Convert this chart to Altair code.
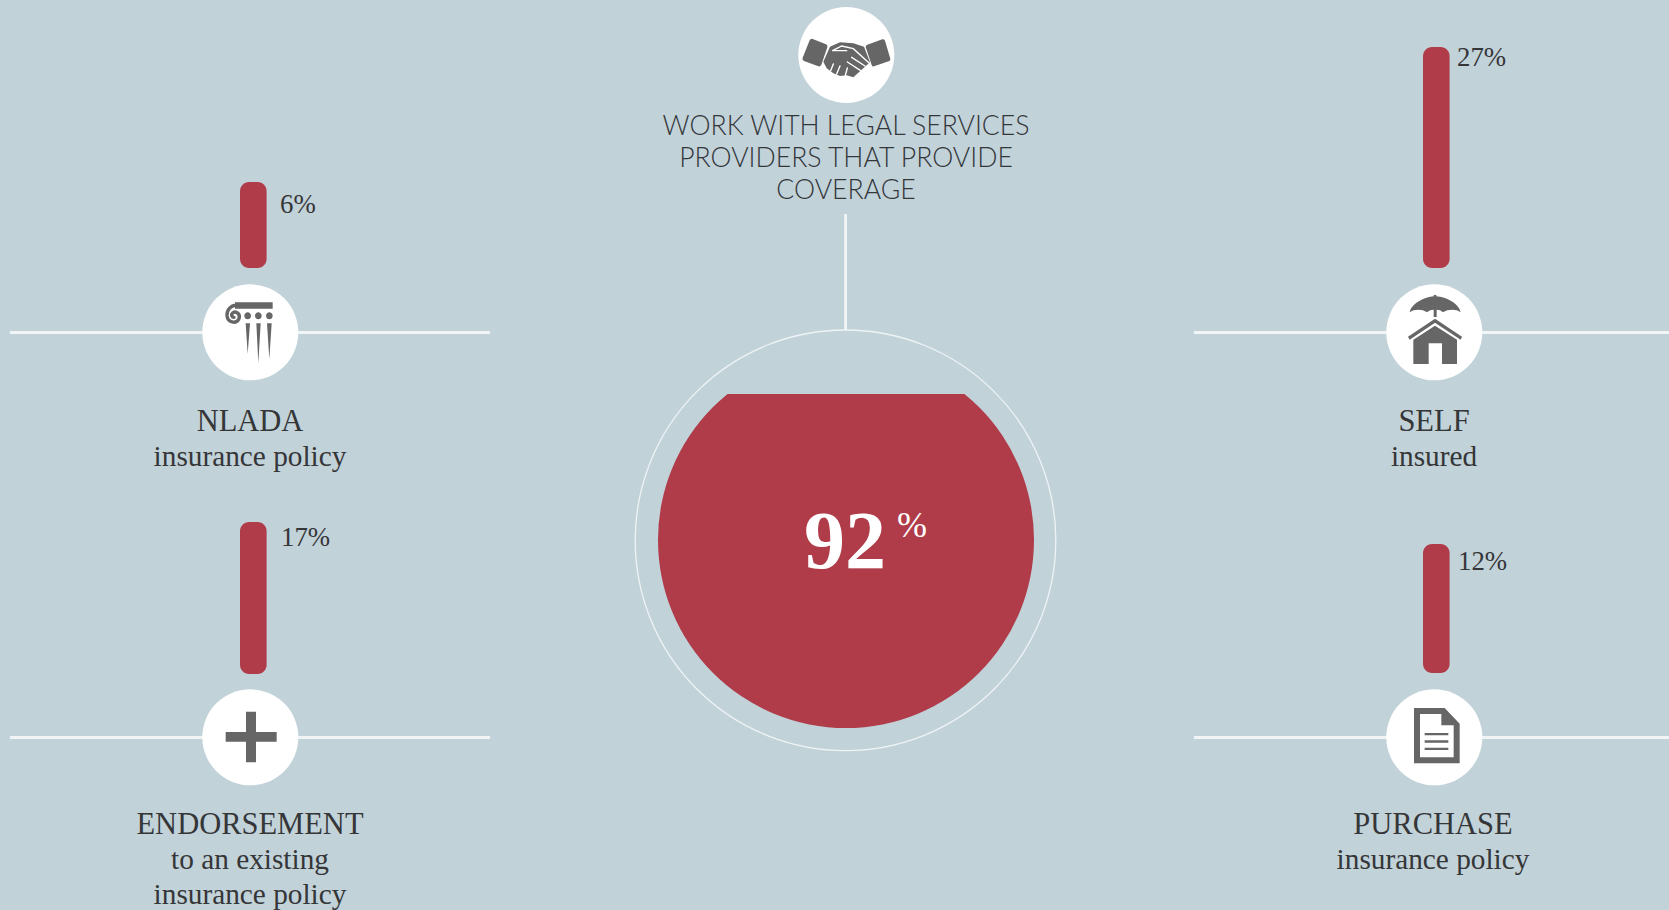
import re
import altair as alt
import pandas as pd

# ---- values
categories = ["NLADA", "ENDORSEMENT", "SELF", "PURCHASE"]
shares = [6, 17, 27, 12]
sublabels = [["insurance policy"], ["to an existing", "insurance policy"], ["insured"], ["insurance policy"]]
headline = ["WORK WITH LEGAL SERVICES", "PROVIDERS THAT PROVIDE", "COVERAGE"]
overall = [92]

BG = "#c2d2d9"
RED = "#b03c4a"
GREY = "#666666"
INK = "#353638"
LINE = "#f1f5f6"
SERIF = "Liberation Serif"
SANS = "Lato"

# bar length is not proportional in the original: one stop per printed share
STOPS = [0, 6, 12, 17, 27]
LENGTHS = [0, 86, 129, 152, 221]

layout = {
    "NLADA": dict(cx=250, cy=332, bar=240, base=268, pct=(280, 213), lab=250, head=431, subs=[466]),
    "ENDORSEMENT": dict(cx=250, cy=737, bar=240, base=674, pct=(281, 546), lab=250, head=834, subs=[869, 904]),
    "SELF": dict(cx=1434, cy=332, bar=1423, base=268, pct=(1457, 66), lab=1434, head=431, subs=[466]),
    "PURCHASE": dict(cx=1434, cy=737, bar=1423, base=673, pct=(1458, 570), lab=1433, head=834, subs=[869]),
}


def shape(d, cx, cy):
    """Take a path written in 3x-zoom pixels, return it in the -1..1 box vega wants (100px box)."""
    nums = re.compile(r"(-?\d+\.?\d*),(-?\d+\.?\d*)")
    return nums.sub(lambda m: f"{(float(m[1]) - cx) / 150:.4f},{(float(m[2]) - cy) / 150:.4f}", d)


def glyph(d, x, y, filled=True, color=GREY, sw=1.5):
    if filled:
        mark = alt.Chart(pd.DataFrame({"a": [1]})).mark_point(shape=d, size=10000, filled=True, color=color, opacity=1, strokeWidth=0)
    else:
        mark = alt.Chart(pd.DataFrame({"a": [1]})).mark_point(shape=d, size=10000, filled=False, stroke=color, opacity=1, strokeWidth=sw, strokeCap="round")
    return mark.encode(x=alt.value(x), y=alt.value(y))


def disc(x, y, r, fill=None, stroke=None, sw=1.0):
    size = (2 * r) ** 2
    if fill:
        m = alt.Chart(pd.DataFrame({"a": [1]})).mark_point(shape="circle", size=size, filled=True, color=fill, opacity=1, strokeWidth=0)
    else:
        m = alt.Chart(pd.DataFrame({"a": [1]})).mark_point(shape="circle", size=size, filled=False, stroke=stroke, opacity=1, strokeWidth=sw)
    return m.encode(x=alt.value(x), y=alt.value(y))


def text(s, x, y, size, font=SERIF, color=INK, align="center", weight="normal"):
    return (
        alt.Chart(pd.DataFrame({"t": [s]}))
        .mark_text(font=font, fontSize=size, color=color, align=align, baseline="alphabetic", fontWeight=weight)
        .encode(text="t:N", x=alt.value(x), y=alt.value(y))
    )


def rule(x1, y1, x2, y2, w=2.8):
    return alt.Chart(pd.DataFrame({"a": [1]})).mark_rule(color=LINE, strokeWidth=w).encode(
        x=alt.value(x1), x2=alt.value(x2), y=alt.value(y1), y2=alt.value(y2)
    )


layers = []

# connector rules
layers += [rule(10, 332.5, 490, 332.5), rule(1194, 332.5, 1669, 332.5),
           rule(10, 737.5, 490, 737.5), rule(1194, 737.5, 1669, 737.5),
           rule(845.6, 214, 845.6, 330)]

# big gauge: red disc, then the unfilled top masked by the level
layers.append(disc(846, 540, 188, fill=RED))
level = (
    alt.Chart(pd.DataFrame({"v": overall}))
    .mark_rect(color=BG)
    .encode(
        x=alt.value(700), x2=alt.value(990),
        y=alt.Y("v:Q", axis=None, scale=alt.Scale(domain=[0, 92, 100], range=[728, 394, 350])),
        y2=alt.value(345),
    )
)
layers.append(level)
layers.append(disc(845.5, 540.3, 210.3, stroke="#eef3f5", sw=1.3))
layers.append(text(str(overall[0]), 886, 568, 82, color="white", align="right", weight="bold"))
layers.append(text("%", 897, 537, 36, color="white", align="left"))

# bars, labels
df = pd.DataFrame({"cat": categories, "share": shares})
for cat, share, subs in zip(categories, shares, sublabels):
    g = layout[cat]
    base = g["base"]
    bar = (
        alt.Chart(df[df.cat == cat])
        .mark_rect(color=RED, cornerRadius=9)
        .encode(
            x=alt.value(g["bar"]), x2=alt.value(g["bar"] + 26.6),
            y=alt.Y("share:Q", axis=None, scale=alt.Scale(domain=STOPS, range=[base - l for l in LENGTHS])),
            y2=alt.value(base),
        )
    )
    layers.append(bar)
    layers.append(text(f"{share}%", g["pct"][0], g["pct"][1], 26.8, align="left"))
    layers.append(disc(g["cx"] + 0.3, g["cy"] + 0.3, 48, fill="white"))
    layers.append(text(cat, g["lab"], g["head"], 30.5))
    for s, y in zip(subs, g["subs"]):
        layers.append(text(s, g["lab"], y, 29.3))

# headline
layers.append(disc(846.3, 55, 48, fill="white"))
for s, y in zip(headline, [135, 167, 199]):
    layers.append(
        alt.Chart(pd.DataFrame({"t": [s]}))
        .mark_text(font=SANS, fontSize=26.6, color="#33363a", align="center", baseline="alphabetic", fontWeight=300)
        .encode(text="t:N", x=alt.value(846), y=alt.value(y))
    )

# ---- icons
# column
c = (750, 546)
column_fill = ("M705,457 L818,457 L818,476 L705,476 Z "
               "M737,520 L750,520 L743,612 Z M769,520 L782,520 L775,640 Z M801,520 L815,520 L808,628 Z "
               "M733,497 C733,483 753,483 753,497 C753,511 733,511 733,497 Z "
               "M765,497 C765,483 785,483 785,497 C785,511 765,511 765,497 Z "
               "M798,497 C798,483 818,483 818,497 C818,511 798,511 798,497 Z")
layers.append(glyph(shape(column_fill, *c), 250, 332))
scroll = "M714,466 C692,464 680,480 681,497 C683,517 708,524 717,506 C722,492 708,481 698,489 C692,494 696,502 702,502"
layers.append(glyph(shape(scroll, *c), 250, 332, filled=False, sw=3.4))

# umbrella and house
c = (763, 907)
umbrella = ("M690,848 C695,822 735,802 762,800 L762,796 L770,796 L770,800 C800,802 838,822 843,848 "
            "C830,838 805,838 790,848 C785,842 778,840 771,840 L771,862 L762,862 L762,840 "
            "C755,840 748,842 742,848 C728,838 703,838 690,848 Z")
house = ("M685,921 L766,867 L847,921 L843,930 L766,879 L690,930 Z "
         "M701,1003 L701,930 L766,888 L832,930 L832,1003 L787,1003 L787,941 L747,941 L747,1003 Z")
layers.append(glyph(shape(umbrella + " " + house, *c), 1434, 332))

# plus
c = (750, 682)
plus = "M738,606 L768,606 L768,667 L830,667 L830,696 L768,696 L768,758 L738,758 L738,696 L677,696 L677,667 L738,667 Z"
layers.append(glyph(shape(plus, *c), 250, 737))

# document
c = (763, 622)
doc = ("M703,535 L795,535 L840,582 L840,701 L703,701 Z "
       "M721,553 L721,683 L822,683 L822,587 L785,587 L785,553 Z "
       "M735,610 L806,610 L806,617 L735,617 Z M735,632 L806,632 L806,639 L735,639 Z M735,654 L806,654 L806,661 L735,661 Z")
layers.append(glyph(shape(doc, *c), 1434, 737))

# handshake
c = (678, 165)
hands = ("M578,117 L618,133 Q624,136 622,142 L604,194 Q601,201 595,199 L552,183 Q545,179 548,173 L569,121 Q572,115 578,117 Z "
         "M742,134 L787,118 Q793,116 795,122 L811,176 Q812,182 806,184 L762,199 Q757,201 755,195 L737,141 Q736,136 742,134 Z "
         "M630,140 L660,127 L700,130 L732,140 L750,187 L730,205 L700,232 L680,226 L660,228 L640,220 L620,205 L610,185 Z")
details = ("M638,152 L665,138 L700,146 L748,190 M680,152 L638,152 "
           "M682,186 L722,212 M695,172 L735,198 M640,192 L632,212 M660,198 L650,222 M682,204 L676,226")
layers.append(glyph(shape(hands, *c), 846, 55))
layers.append(glyph(shape(details, *c), 846, 55, filled=False, color="white", sw=1.4))

chart = (
    alt.layer(*layers)
    .resolve_scale(y="independent", x="independent")
    .properties(width=1669, height=910, background=BG, padding=0, autosize=alt.AutoSizeParams(type="none"))
    .configure_view(stroke=None)
)

chart.save(
    "out.html",
    embed_options={
        "renderer": "svg",
        "actions": False,
        "defaultStyle": f"html,body{{margin:0;padding:0;overflow:hidden;background:{BG}}}",
    },
)
